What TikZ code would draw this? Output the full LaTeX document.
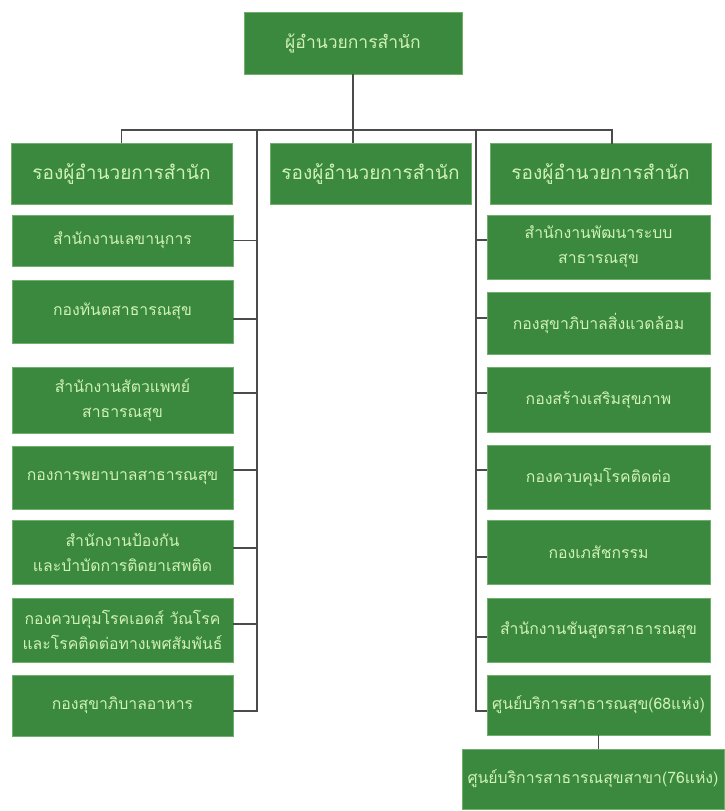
\documentclass[tikz,border=0pt]{standalone}
\usepackage{fontspec}
\newfontfamily\thaifont[Script=Thai]{Loma}
\usetikzlibrary{calc}
\definecolor{boxgreen}{RGB}{58,137,62}
\definecolor{edgegreen}{RGB}{110,175,105}
\definecolor{txtgreen}{RGB}{208,242,180}
\definecolor{linegray}{RGB}{75,75,75}
\begin{document}
\begin{tikzpicture}[x=1pt,y=-1pt,
  box/.style={draw=edgegreen, line width=0.8pt, fill=boxgreen, text=txtgreen,
    inner sep=2pt, align=center, font=\thaifont\fontsize{15.8}{25}\selectfont},
  topbox/.style={box, font=\thaifont\fontsize{17.5}{20}\selectfont},
  bigbox/.style={box, font=\thaifont\fontsize{19}{22}\selectfont},
  lcol/.style={box, minimum width=221pt},
  rcol/.style={box, minimum width=223pt},
  conn/.style={draw=linegray, line width=1.3pt}]
\useasboundingbox (0,0) rectangle (725,811);

% top level
\node[topbox, minimum width=218pt, minimum height=62pt] (top) at (353,43) {ผู้อำนวยการสำนัก};
\node[bigbox, minimum width=221pt, minimum height=61pt] (L0) at (121.5,174) {รองผู้อำนวยการสำนัก};
\node[bigbox, minimum width=201pt, minimum height=61pt] (M0) at (370.5,174) {รองผู้อำนวยการสำนัก};
\node[bigbox, minimum width=221pt, minimum height=61pt] (R0) at (600.5,174) {รองผู้อำนวยการสำนัก};

% left column
\node[lcol, minimum height=51pt] (L1) at (122.5,240.5) {สำนักงานเลขานุการ};
\node[lcol, minimum height=63pt] (L2) at (122.5,311.5) {กองทันตสาธารณสุข};
\node[lcol, minimum height=66pt] (L3) at (122.5,400) {สำนักงานสัตวแพทย์\\สาธารณสุข};
\node[lcol, minimum height=63pt] (L4) at (122.5,477.5) {กองการพยาบาลสาธารณสุข};
\node[lcol, minimum height=64pt] (L5) at (122.5,552) {สำนักงานป้องกัน\\และบำบัดการติดยาเสพติด};
\node[lcol, minimum height=64pt] (L6) at (122.5,630) {กองควบคุมโรคเอดส์ วัณโรค\\และโรคติดต่อทางเพศสัมพันธ์};
\node[lcol, minimum height=61pt] (L7) at (122.5,705.5) {กองสุขาภิบาลอาหาร};

% right column
\node[rcol, minimum height=64pt] (R1) at (598.5,247) {สำนักงานพัฒนาระบบ\\สาธารณสุข};
\node[rcol, minimum height=62pt] (R2) at (598.5,323) {กองสุขาภิบาลสิ่งแวดล้อม};
\node[rcol, minimum height=65pt] (R3) at (598.5,399.5) {กองสร้างเสริมสุขภาพ};
\node[rcol, minimum height=64pt] (R4) at (598.5,477) {กองควบคุมโรคติดต่อ};
\node[rcol, minimum height=64pt] (R5) at (598.5,552) {กองเภสัชกรรม};
\node[rcol, minimum height=64pt] (R6) at (598.5,630) {สำนักงานชันสูตรสาธารณสุข};
\node[rcol, minimum height=60pt] (R7) at (598.5,705) {ศูนย์บริการสาธารณสุข(68แห่ง)};
\node[box, minimum width=262pt, minimum height=60pt] (B) at (593,779) {ศูนย์บริการสาธารณสุขสาขา(76แห่ง)};

% connector points
\coordinate (busC) at (354,130);
\coordinate (trL) at (257,130);
\coordinate (trR) at (476,130);
\coordinate (rdrop) at (612,143.5);

\draw[conn] (top.south) -- (top.south |- M0.north);
\draw[conn] (L0.north) |- (busC) -| (rdrop);
\draw[conn] (trL) |- ($(L7.east)+(0,5.5)$);
\draw[conn] (trR) |- ($(R7.west)+(0,6)$);

\draw[conn] (L1.east) -- (L1.east -| trL);
\draw[conn] ($(L2.east)+(0,7.5)$) -- ($(L2.east -| trL)+(0,7.5)$);
\draw[conn] ($(L3.east)+(0,-7)$) -- ($(L3.east -| trL)+(0,-7)$);
\draw[conn] ($(L4.east)+(0,-7.5)$) -- ($(L4.east -| trL)+(0,-7.5)$);
\draw[conn] ($(L5.east)+(0,-4)$) -- ($(L5.east -| trL)+(0,-4)$);
\draw[conn] ($(L6.east)+(0,-6)$) -- ($(L6.east -| trL)+(0,-6)$);

\draw[conn] ($(R1.west)+(0,-7)$) -- ($(R1.west -| trR)+(0,-7)$);
\draw[conn] ($(R2.west)+(0,-5)$) -- ($(R2.west -| trR)+(0,-5)$);
\draw[conn] ($(R3.west)+(0,-6.5)$) -- ($(R3.west -| trR)+(0,-6.5)$);
\draw[conn] ($(R4.west)+(0,-7)$) -- ($(R4.west -| trR)+(0,-7)$);
\draw[conn] ($(R5.west)+(0,5)$) -- ($(R5.west -| trR)+(0,5)$);
\draw[conn] ($(R6.west)+(0,7)$) -- ($(R6.west -| trR)+(0,7)$);

\draw[conn] (R7.south) -- (R7.south |- B.north);
\end{tikzpicture}
\end{document}
